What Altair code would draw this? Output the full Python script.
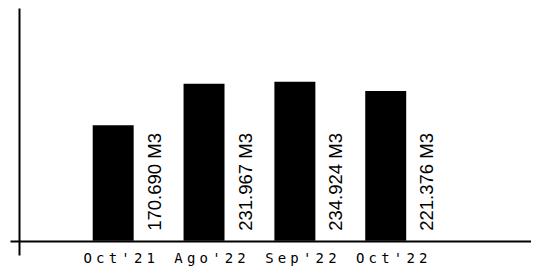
import altair as alt
import pandas as pd

categories = ["Oct'21", "Ago'22", "Sep'22", "Oct'22"]
values = [170.690, 231.967, 234.924, 221.376]
labels = ["170.690 M3", "231.967 M3", "234.924 M3", "221.376 M3"]

df = pd.DataFrame({"cat": categories, "val": values, "lab": labels})

x_domain = categories + [" "]  # empty slot on the right
xscale = alt.Scale(domain=x_domain, paddingInner=0.549, paddingOuter=0.642,
                   align=0.709, round=False)
yscale = alt.Scale(domain=[-21, 344], nice=False, zero=False)

xaxis = alt.Axis(
    orient="bottom", offset=-14, domainColor="black", domainWidth=2,
    ticks=False, labels=False, grid=False, title=None,
)
yaxis = alt.Axis(
    offset=-9, labels=False, ticks=False, grid=False, title=None,
    domainColor="black", domainWidth=2,
)

base = alt.Chart(df)
bars = base.mark_bar(color="black").encode(
    x=alt.X("cat:N", scale=xscale, axis=xaxis),
    y=alt.Y("val:Q", scale=yscale, axis=yaxis),
    y2=alt.datum(0),
)
texts = base.mark_text(
    angle=270, align="left", baseline="alphabetic", dx=10, dy=47.5,
    font="Liberation Sans", fontSize=18.5, color="black",
).encode(
    x=alt.X("cat:N", scale=xscale),
    y=alt.datum(0),
    text="lab:N",
)
# category labels, letter-spaced (one text item per character)
cat_labels = base.transform_calculate(
    ch="split(datum.cat, '')"
).transform_flatten(["ch"]).transform_window(
    pos="row_number()", groupby=["cat"]
).mark_text(
    font="DejaVu Sans Mono", fontSize=14, color="black",
    align="center", baseline="alphabetic", dy=21.8,
).encode(
    x=alt.X("cat:N", scale=xscale),
    xOffset=alt.XOffset("pos:Q", scale=alt.Scale(domain=[1, 6], range=[-5, 58])),
    y=alt.datum(0),
    text="ch:N",
)

chart = alt.layer(bars, texts, cat_labels).resolve_scale(
    xOffset="independent"
).properties(
    width=521, height=247, autosize="none",
    padding={"left": 2, "top": 0, "right": 0, "bottom": 11},
).configure_view(strokeWidth=0)

chart.save("out.html", embed_options={"renderer": "svg", "actions": False})
